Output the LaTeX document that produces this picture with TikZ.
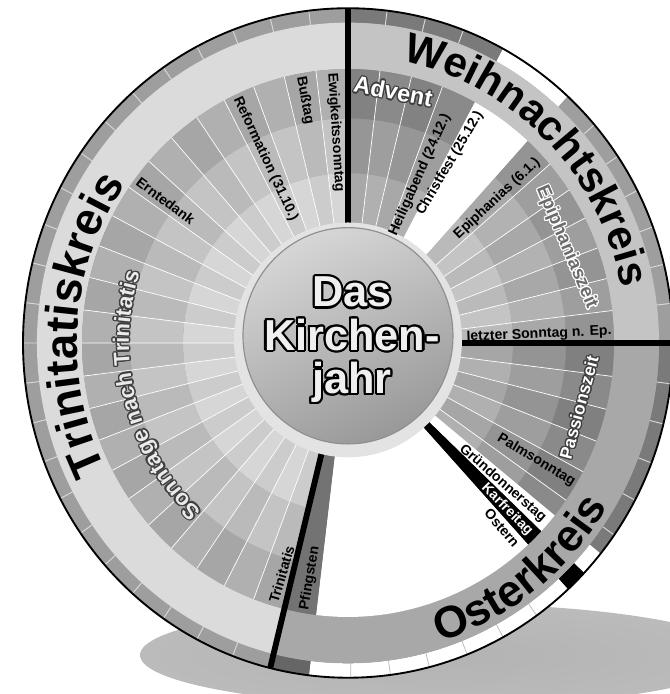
\documentclass[tikz,border=0pt]{standalone}
\usepackage{fontspec}
\setmainfont{Liberation Sans}
\usepackage[copies]{contour}
\contournumber{16}
\usetikzlibrary{decorations.text}
\newcommand\annul[5]{\fill[#5] (#1:#3) arc[start angle=#1,end angle=#2,radius=#3] -- (#2:#4) arc[start angle=#2,end angle=#1,radius=#4] -- cycle;}
\newcommand\shell[3]{\pgfmathsetmacro\la{#3}\pgfmathsetmacro\lb{#3+7}\pgfmathsetmacro\lc{#3+15}%
\annul{#1}{#2}{110}{165}{black!\la}\annul{#1}{#2}{165}{218}{black!\lb}\annul{#1}{#2}{218}{266}{black!\lc}}
\newcommand\outl[1]{\contourlength{1.1pt}\contour{black!75}{#1}}
\newcommand\paleoutl[1]{\contourlength{.9pt}\contour{white}{#1}}
\newcommand\hubword[1]{\contourlength{1.8pt}\contour{black}{#1}}
\pgfdeclareradialshading{shadowblur}{\pgfpoint{0bp}{0bp}}{color(0bp)=(black!30); color(30bp)=(black!26); color(43bp)=(black!14); color(50bp)=(white)}
\tikzset{
lbl/.style={font=\bfseries\fontsize{12}{12}\selectfont,inner sep=0pt},
inward/.style={lbl,anchor=west},
outward/.style={lbl,anchor=east},
seam/.style={white,line width=.6pt},
tileseam/.style={black!15,line width=.8pt},
paleseam/.style={black!28,line width=.6pt},
divider/.style={line width=5pt},
bandtext/.style 2 args={decorate,decoration={text along path,text align=center,text={|\bfseries\fontsize{#1}{#1}\selectfont|#2}}},
hubtext/.style={font=\bfseries\fontsize{37}{37}\selectfont,align=center,text=black!6},
sweep/.style={font=\bfseries\fontsize{#1}{#1}\selectfont,inner sep=0pt,text=white}
}
\begin{document}
\begin{tikzpicture}[x=0.03cm,y=0.0309cm]
\useasboundingbox (-348,-340.8) rectangle (322,333);
\shade[shading=shadowblur] (92,-303) ellipse[x radius=300,y radius=50];
\fill[black!38] (0,0) circle[radius=325];
\annul{61.5}{90}{311}{325}{black!52}
\annul{47.5}{61.5}{311}{325}{white}
\annul{-39}{0}{311}{325}{black!52}
\annul{-43.4}{-39}{311}{325}{white}
\annul{-47.4}{-43.4}{311}{325}{black}
\annul{-96.9}{-47.4}{311}{325}{white}
\annul{-103.85}{-96.9}{311}{325}{black!60}
\foreach \k in {1,...,23} \draw[tileseam] ({90+6.923*\k}:311) -- ({90+6.923*\k}:325);
\foreach \a in {83.1,76.2,69.2,40.7,33.9,27.1,20.3,13.6,6.8,-7,-14,-21,-28,-35} \draw[tileseam] (\a:311) -- (\a:325);
\foreach \a in {-54.5,-61.5,-68.5,-75.5,-82.5,-89.5} \draw[paleseam] (\a:311) -- (\a:325);
\annul{90}{256.15}{266}{311}{black!14}
\annul{0}{90}{266}{311}{black!23}
\annul{-103.85}{0}{266}{311}{black!34}
\foreach \k in {0,...,23}{\pgfmathsetmacro\a{90+6.923*\k}\pgfmathsetmacro\b{\a+6.923}\shell{\a}{\b}{16+4*mod(\k,2)}}
\foreach \a/\b [count=\i] in {83.1/90,76.2/83.1,69.2/76.2,61.5/69.2}{\shell{\a}{\b}{31+3*mod(\i,2)}}
\annul{47.5}{61.5}{110}{266}{white}
\foreach \a/\b [count=\i] in {40.7/47.5,33.9/40.7,27.1/33.9,20.3/27.1,13.6/20.3,6.8/13.6,0/6.8}{\shell{\a}{\b}{23+4*mod(\i,2)}}
\foreach \a/\b [count=\i] in {-7/0,-14/-7,-21/-14,-28/-21,-35/-28,-39/-35}{\shell{\a}{\b}{31+4*mod(\i,2)}}
\annul{-43.4}{-39}{110}{266}{white}
\annul{-47.4}{-43.4}{110}{266}{black}
\annul{-96.9}{-47.4}{110}{266}{white}
\annul{-103.85}{-96.9}{110}{266}{black!55}
\foreach \k in {1,...,23} \draw[seam] ({90+6.923*\k}:110) -- ({90+6.923*\k}:266);
\foreach \a in {83.1,76.2,69.2,40.7,33.9,27.1,20.3,13.6,6.8,-7,-14,-21,-28,-35} \draw[seam] (\a:110) -- (\a:266);
\draw[divider] (90:110) -- (90:325) (0:110) -- (0:325) (-103.85:110) -- (-103.85:325);
\draw[line width=1.6pt] (0,0) circle[radius=325];
\fill[black!11] (0,3) circle[radius=114];
\shadedraw[top color=black!16,bottom color=black!40,shading angle=25,draw=black!44,line width=1pt] (0,7) circle[radius=105];
\node[inward,rotate=273.5] (ewig) at (93.5:263) {Ewigkeitssonntag};
\node[inward,rotate=280.4] (buss) at (100.4:263) {Bußtag};
\node[inward,rotate=295] (reform) at (115:263) {Reformation (31.10.)};
\node[inward,rotate=323] (ernte) at (143:263) {Erntedank};
\node[inward,rotate=433.5] (trin) at (253.5:263) {Trinitatis};
\node[inward,rotate=440.5] (pfing) at (260.5:263) {Pfingsten};
\node[outward,rotate=66] (heilig) at (66:243) {Heiligabend (24.12.)};
\node[outward,rotate=59.5] (christ) at (59.5:260) {Christfest (25.12.)};
\node[outward,rotate=43] (epi) at (43:260) {Epiphanias (6.1.)};
\node[outward,rotate=2.5] (letzt) at (2.5:264) {letzter Sonntag n. Ep.};
\node[outward,rotate=-31] (palm) at (-31:264) {Palmsonntag};
\node[outward,rotate=-41.2] (gruen) at (-41.2:261) {Gründonnerstag};
\node[outward,rotate=-45.4,text=white] (karf) at (-45.4:260) {Karfreitag};
\node[outward,rotate=-49.3] (ost) at (-49.3:259) {Ostern};
\node[sweep=20,rotate=-11] (advent) at (79.5:248) {\outl{Advent}};
\node[sweep=16,rotate=-67,text=black!58] (epizeit) at (23:237) {\paleoutl{Epiphaniaszeit}};
\node[sweep=15,rotate=74.8] (passion) at (-15.2:240) {\outl{Passionszeit}};
\path[decorate,decoration={text effects along path,text={Sonntage nach Trinitatis},text align=center,text effects/.cd,text along path,character command=\outl,characters={font=\bfseries\fontsize{19}{19}\selectfont,text=black!8}}] (230:219) arc[start angle=230,end angle=160,radius=219];
\path[bandtext={36}{Weihnachtskreis}] (82:279) arc[start angle=82,end angle=8,radius=279];
\path[bandtext={39}{Trinitatiskreis}] (212:271) arc[start angle=212,end angle=140,radius=271];
\path[bandtext={38}{Osterkreis}] (-78:305) arc[start angle=-78,end angle=-26,radius=305];
\node[hubtext] (hub) at (4,2) {\hubword{Das}\\\hubword{Kirchen-}\\\hubword{jahr}};
\end{tikzpicture}
\end{document}
